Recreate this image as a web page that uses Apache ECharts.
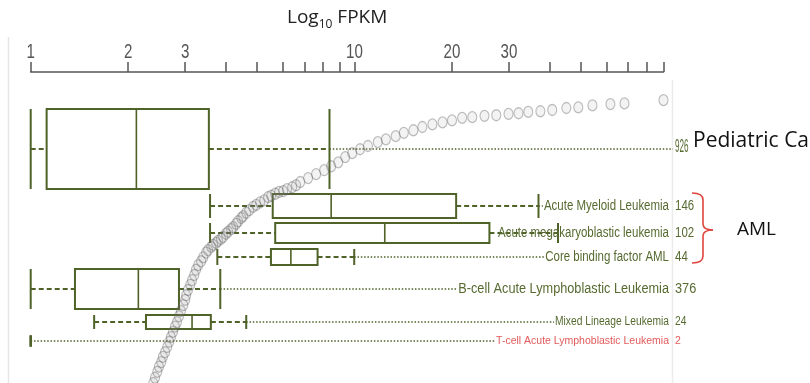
<!DOCTYPE html>
<html>
<head>
<meta charset="utf-8">
<script src="https://cdn.jsdelivr.net/npm/echarts@6/dist/echarts.min.js"></script>
<style>
  html, body { margin: 0; padding: 0; background: #fff; }
  #chart { width: 810px; height: 383px; }
</style>
</head>
<body>
<div id="chart"></div>
<script>
// Expression (FPKM) summary per cohort: whiskers, quartiles, median
const groups = [
  'Pediatric Cancer',
  'Acute Myeloid Leukemia',
  'Acute megakaryoblastic leukemia',
  'Core binding factor AML',
  'B-cell Acute Lymphoblastic Leukemia',
  'Mixed Lineage Leukemia',
  'T-cell Acute Lymphoblastic Leukemia'
];
const sampleCounts = [926, 146, 102, 44, 376, 24, 2];
const whiskerLow  = [1.00, 3.58, 3.58, 3.77, 1.00, 1.57, 1.00];
const quartile1   = [1.12, 5.59, 5.69, 5.52, 1.37, 2.27, 1.00];
const medians     = [2.12, 8.47, 12.4, 6.36, 2.15, 3.15, 1.00];
const quartile3   = [3.55, 20.6, 26.1, 7.69, 2.87, 3.60, 1.00];
const whiskerHigh = [8.37, 37.0, 42.5, 9.98, 3.85, 4.63, 1.00];

// Individual pediatric cancer samples, sorted: rank and FPKM (upper part of the distribution)
const sampleRank = [
  494, 502, 511, 519, 526, 534, 541, 549, 557, 564, 572, 580, 587, 596, 604, 613,
  621, 628, 636, 644, 651, 659, 667, 674, 680, 686, 693, 697, 702, 705, 708, 711,
  714, 717, 722, 725, 729, 732, 737, 741, 746, 749, 754, 758, 763, 766, 770, 773,
  778, 780, 783, 786, 787, 790, 793, 796, 801, 807, 813, 819, 825, 831, 839, 845,
  851, 856, 862, 866, 871, 876, 880, 885, 889, 892, 895, 899, 900, 902, 903, 905,
  906, 908, 909, 911, 914, 915, 918, 920, 921, 926
];
const sampleFpkm = [
  2.39, 2.42, 2.46, 2.49, 2.53, 2.56, 2.60, 2.64, 2.68, 2.71, 2.75, 2.79, 2.83, 2.87, 2.91, 2.96,
  3.00, 3.02, 3.06, 3.11, 3.15, 3.20, 3.24, 3.29, 3.36, 3.41, 3.48, 3.53, 3.61, 3.66, 3.74, 3.79,
  3.87, 3.93, 4.01, 4.07, 4.16, 4.22, 4.31, 4.37, 4.47, 4.53, 4.63, 4.73, 4.86, 4.97, 5.11, 5.26,
  5.41, 5.53, 5.69, 5.85, 6.02, 6.19, 6.42, 6.60, 6.80, 7.19, 7.61, 8.06, 8.47, 8.91, 9.36, 9.84,
  10.4, 11.0, 11.8, 12.5, 13.4, 14.2, 15.2, 16.2, 17.4, 18.7, 20.0, 21.5, 23.1, 25.2, 27.4, 29.9,
  32.1, 34.4, 37.5, 40.8, 45.1, 49.1, 54.3, 61.7, 68.2, 90.0
];

// Axis ticks
const labeledTicks = [1, 2, 3, 10, 20, 30];
const plainTicks = [4, 5, 6, 7, 8, 9, 40, 50, 60, 70, 80, 90];
const X_MIN = 1, X_MAX = 90;
const RANK_MIN = 494, RANK_MAX = 969;

// Layout: row centre and box height, in row-track units (0 = axis line)
const rowLayout = [
  { center: 77,  height: 80 },
  { center: 134, height: 24 },
  { center: 161, height: 20 },
  { center: 185, height: 16 },
  { center: 217, height: 40 },
  { center: 250, height: 14 },
  { center: 269, height: 11 }
];

const BOX_COLOR = '#4f6228';
const TEXT_GREEN = '#566a30';
const TEXT_RED = '#e25a5a';
const BRACE_RED = '#e0453e';
const LABEL_FONT = '"Liberation Sans", Arial, sans-serif';
const TITLE_FONT = '"Open Sans", sans-serif';

// Per-row label styling (narrowed Arial-like lettering)
const rowText = [
  { name: false, size: 15,   squeeze: 0.82, countSize: 18,   countSqueeze: 0.45, color: TEXT_GREEN },
  { name: true,  size: 14,   squeeze: 0.82, countSize: 14,   countSqueeze: 0.82, color: TEXT_GREEN },
  { name: true,  size: 14,   squeeze: 0.82, countSize: 14,   countSqueeze: 0.82, color: TEXT_GREEN },
  { name: true,  size: 14,   squeeze: 0.82, countSize: 14,   countSqueeze: 0.82, color: TEXT_GREEN },
  { name: true,  size: 15.5, squeeze: 0.82, countSize: 15.5, countSqueeze: 0.82, color: TEXT_GREEN },
  { name: true,  size: 12.5, squeeze: 0.82, countSize: 12.5, countSqueeze: 0.82, color: TEXT_GREEN },
  { name: true,  size: 10.5, squeeze: 1.0,  countSize: 10.5, countSqueeze: 1.0,  color: TEXT_RED }
];

const measureCtx = document.createElement('canvas').getContext('2d');
function textWidth(str, size) {
  measureCtx.font = size + 'px ' + LABEL_FONT;
  return measureCtx.measureText(str).width;
}

function seg(x1, y1, x2, y2, width, dash) {
  const style = { stroke: BOX_COLOR, lineWidth: width };
  if (dash) style.lineDash = dash;
  return { type: 'line', shape: { x1, y1, x2, y2 }, style };
}

function renderRow(params, api) {
  const i = api.value(5);
  const row = rowLayout[i];
  const at = v => api.coord([v, row.center]);
  const lo = at(api.value(0)), q1 = at(api.value(1)), md = at(api.value(2));
  const q3 = at(api.value(3)), hi = at(api.value(4));
  const y = lo[1];
  const top = y - row.height / 2, bottom = y + row.height / 2;
  const edge = api.coord([X_MAX, row.center])[0];
  const nameRight = edge + 5.5, countLeft = edge + 11.5;
  const st = rowText[i];
  const dottedEnd = st.name
    ? nameRight - textWidth(groups[i], st.size) * st.squeeze - 1
    : countLeft - 2;

  const children = [];
  if (dottedEnd > hi[0]) children.push(seg(hi[0], y, dottedEnd, y, 1.5, [1.5, 1.8]));
  children.push(seg(lo[0], y, q1[0], y, 2, [5, 3]));
  children.push(seg(q3[0], y, hi[0], y, 2, [5, 3]));
  children.push(seg(lo[0], top, lo[0], bottom, 2));
  children.push(seg(hi[0], top, hi[0], bottom, 2));
  children.push({
    type: 'rect',
    shape: { x: q1[0], y: top, width: q3[0] - q1[0], height: row.height },
    style: { fill: 'none', stroke: BOX_COLOR, lineWidth: 2 }
  });
  children.push(seg(md[0], top, md[0], bottom, 1.6));
  if (st.name) {
    children.push({
      type: 'text', x: nameRight, y: y, scaleX: st.squeeze,
      style: {
        text: groups[i], x: 0, y: 0, align: 'right', verticalAlign: 'middle',
        fontSize: st.size, fontFamily: LABEL_FONT, fill: st.color
      }
    });
  }
  children.push({
    type: 'text', x: countLeft, y: y - (i === 0 ? 2 : 0), scaleX: st.countSqueeze,
    style: {
      text: String(sampleCounts[i]), x: 0, y: 0, align: 'left', verticalAlign: 'middle',
      fontSize: st.countSize, fontFamily: LABEL_FONT, fill: st.color
    }
  });
  return { type: 'group', children };
}

// Tick labels above the axis, set in narrow lettering
function renderTickLabel(params, api) {
  const v = api.value(0);
  const p = api.coord([v, 0]);
  return {
    type: 'text', x: p[0], y: p[1] - 9.5, scaleX: 0.72,
    style: {
      text: String(v), x: 0, y: 0, align: 'center', verticalAlign: 'bottom',
      fontSize: 21, fontFamily: LABEL_FONT, fill: '#555'
    }
  };
}

// Curly brace grouping the three AML subtypes
function braceParts() {
  const st = { fill: 'none', stroke: BRACE_RED, lineWidth: 1.6 };
  return [
    { type: 'bezierCurve', shape: { x1: 692, y1: 193, cpx1: 703, cpy1: 193, x2: 703, y2: 200 }, style: st },
    { type: 'line', shape: { x1: 703, y1: 200, x2: 703, y2: 224 }, style: st },
    { type: 'bezierCurve', shape: { x1: 703, y1: 224, cpx1: 703, cpy1: 230, x2: 713, y2: 230 }, style: st },
    { type: 'bezierCurve', shape: { x1: 713, y1: 230, cpx1: 703, cpy1: 230, x2: 703, y2: 236 }, style: st },
    { type: 'line', shape: { x1: 703, y1: 236, x2: 703, y2: 256 }, style: st },
    { type: 'bezierCurve', shape: { x1: 703, y1: 256, cpx1: 703, cpy1: 263, x2: 692, y2: 263 }, style: st }
  ];
}

const chart = echarts.init(document.getElementById('chart'), null, { renderer: 'canvas' });

chart.setOption({
  animation: false,
  backgroundColor: '#fff',
  grid: { left: 30.7, right: 146.5, top: 72, bottom: 0, containLabel: false },
  xAxis: {
    type: 'log',
    logBase: 10,
    min: X_MIN,
    max: X_MAX,
    position: 'top',
    axisLine: { show: true, onZero: false, lineStyle: { color: '#555', width: 1.5 } },
    axisTick: {
      show: true, inside: false, length: 10,
      lineStyle: { color: '#555', width: 1.5 },
      customValues: labeledTicks.concat(plainTicks)
    },
    axisLabel: { show: false },
    splitLine: { show: false },
    minorTick: { show: false }
  },
  yAxis: [
    { type: 'value', min: 0, max: 311, inverse: true, show: false, splitLine: { show: false } },
    { type: 'value', min: RANK_MIN, max: RANK_MAX, show: false, splitLine: { show: false } }
  ],
  series: [
    {
      type: 'custom',
      xAxisIndex: 0,
      yAxisIndex: 0,
      silent: true,
      clip: false,
      encode: { x: [0, 1, 2, 3, 4] },
      data: groups.map((g, i) => [whiskerLow[i], quartile1[i], medians[i], quartile3[i], whiskerHigh[i], i]),
      renderItem: renderRow,
      z: 2
    },
    {
      type: 'custom',
      xAxisIndex: 0,
      yAxisIndex: 0,
      silent: true,
      clip: false,
      encode: { x: 0 },
      data: labeledTicks.map(v => [v]),
      renderItem: renderTickLabel,
      z: 2
    },
    {
      type: 'scatter',
      xAxisIndex: 0,
      yAxisIndex: 1,
      silent: true,
      symbol: 'circle',
      symbolSize: [9, 11],
      itemStyle: {
        color: 'rgba(150,150,150,0.14)',
        borderColor: 'rgba(95,95,95,0.5)',
        borderWidth: 1.2
      },
      data: sampleFpkm.map((v, i) => [v, sampleRank[i]]),
      z: 3
    }
  ],
  graphic: [
    { type: 'line', shape: { x1: 8.5, y1: 37, x2: 8.5, y2: 383 }, style: { stroke: '#e6e6e6', lineWidth: 1.5 }, silent: true },
    { type: 'line', shape: { x1: 672.5, y1: 80, x2: 672.5, y2: 383 }, style: { stroke: '#ececec', lineWidth: 1.5 }, silent: true },
    {
      type: 'text', x: 287, y: 5, silent: true,
      style: {
        text: '{m|Log}{s|10}{m| FPKM}',
        rich: {
          m: { fontSize: 19, lineHeight: 26, fontFamily: TITLE_FONT, fill: '#222', verticalAlign: 'middle' },
          s: { fontSize: 12, lineHeight: 10, fontFamily: TITLE_FONT, fill: '#222', verticalAlign: 'bottom' }
        }
      }
    },
    {
      type: 'text', x: 693, y: 141, silent: true,
      style: { text: 'Pediatric Cancer', fontSize: 21, fontFamily: TITLE_FONT, fill: '#111', verticalAlign: 'middle' }
    },
    { type: 'group', silent: true, children: braceParts() },
    {
      type: 'text', x: 737, y: 230, silent: true,
      style: { text: 'AML', fontSize: 19, fontFamily: TITLE_FONT, fill: '#111', verticalAlign: 'middle' }
    }
  ]
});
</script>
</body>
</html>
